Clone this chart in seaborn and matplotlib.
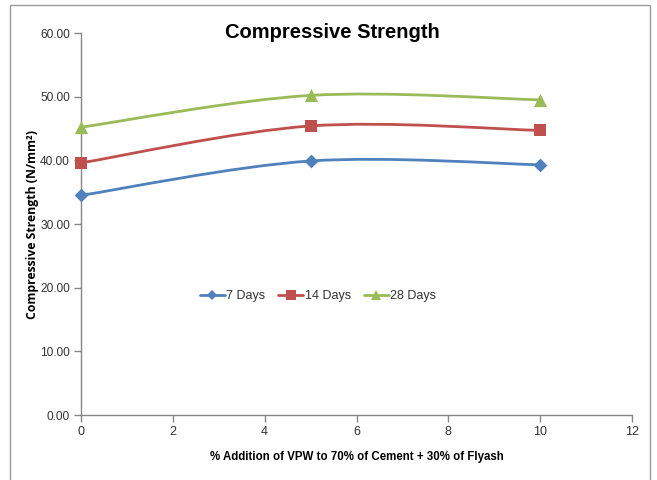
import matplotlib
matplotlib.use("Agg")
import matplotlib.pyplot as plt
import numpy as np
import seaborn as sns
from matplotlib.path import Path
from matplotlib.patches import PathPatch, Rectangle
from matplotlib.lines import Line2D
from matplotlib.ticker import FormatStrFormatter

# VPW addition (%) and compressive strength (N/mm²) at each curing age
vpw_pct = [0, 5, 10]
days_7 = [34.5, 39.9, 39.3]
days_14 = [39.6, 45.4, 44.7]
days_28 = [45.2, 50.2, 49.5]
series_names = ["7 Days", "14 Days", "28 Days"]
colors = ["#4F81BD", "#C0504D", "#9BBB59"]
markers = ["D", "s", "^"]
marker_sizes = [7, 9, 9.5]

sns.set_theme(style="white")
plt.rcParams["font.family"] = ["Liberation Sans Narrow", "Liberation Sans", "DejaVu Sans"]

fig = plt.figure(figsize=(6.57, 4.8), dpi=100)
ax = fig.add_axes([81 / 657, 1 - 415 / 480, (632 - 81) / 657, (415 - 33) / 480])

# light outer frame of the chart area
fig.patches.append(Rectangle((10 / 657, -0.01), (650 - 10) / 657, 1 - 5 / 480 + 0.01,
                             transform=fig.transFigure, fill=False,
                             edgecolor="#9a9a9a", linewidth=1.0))


def smooth_path(xs, ys):
    """Cubic Bezier path through the points (Catmull-Rom style tangents)."""
    pts = np.column_stack([xs, ys]).astype(float)
    n = len(pts)
    verts = [pts[0]]
    codes = [Path.MOVETO]
    for i in range(n - 1):
        p_prev = pts[i - 1] if i > 0 else pts[i]
        p_next = pts[i + 2] if i + 2 < n else pts[i + 1]
        c1 = pts[i] + (pts[i + 1] - p_prev) / 6.0
        c2 = pts[i + 1] - (p_next - pts[i]) / 6.0
        verts += [c1, c2, pts[i + 1]]
        codes += [Path.CURVE4] * 3
    return Path(np.array(verts), codes)


handles = []
for vals, name, col, mk, ms in zip([days_7, days_14, days_28], series_names,
                                   colors, markers, marker_sizes):
    ax.add_patch(PathPatch(smooth_path(vpw_pct, vals), facecolor="none",
                           edgecolor=col, linewidth=2.0, zorder=2,
                           capstyle="round", joinstyle="round"))
    sns.scatterplot(x=vpw_pct, y=vals, ax=ax, marker=mk, s=ms ** 2,
                    color=col, edgecolor=col, linewidth=0, zorder=3, legend=False)
    handles.append(Line2D([], [], color=col, linewidth=2.0, marker=mk,
                          markersize=ms * 0.75, markeredgewidth=0, label=name))

for coll in ax.collections:
    coll.set_clip_on(False)

ax.set_xlim(0, 12)
ax.set_ylim(0, 60)
ax.set_xticks(range(0, 13, 2))
ax.set_yticks(range(0, 61, 10))
ax.yaxis.set_major_formatter(FormatStrFormatter("%.2f"))

for side in ["top", "right"]:
    ax.spines[side].set_visible(False)
for side in ["left", "bottom"]:
    ax.spines[side].set_color("#868686")
    ax.spines[side].set_linewidth(1.0)
ax.tick_params(axis="both", which="major", direction="out", length=5,
               width=1.0, color="#868686", labelsize=9, labelcolor="#333333",
               left=True, bottom=True, pad=3)
ax.tick_params(axis="y", labelsize=8.6)

ax.set_ylabel("Compressive Strength (N/mm²)", fontsize=8.8, fontweight="bold",
              color="black", family=["Open Sans", "DejaVu Sans"])
ax.yaxis.set_label_coords((39 - 81) / 551, 0.5)
ax.set_xlabel("% Addition of VPW to 70% of Cement + 30% of Flyash", fontsize=8.3,
              fontweight="bold", color="black", labelpad=9)

fig.text(332 / 657, 1 - 33 / 480, "Compressive Strength", ha="center", va="center",
         fontsize=14.5, fontweight="bold", color="black")

leg = ax.legend(handles=handles, loc="center", bbox_to_anchor=((318 - 81) / 551, (415 - 296) / 382),
                ncol=3, frameon=False, fontsize=9, handlelength=2.0,
                handletextpad=0.15, columnspacing=1.0)
for t in leg.get_texts():
    t.set_color("#333333")

fig.savefig("out.png", dpi=100)
